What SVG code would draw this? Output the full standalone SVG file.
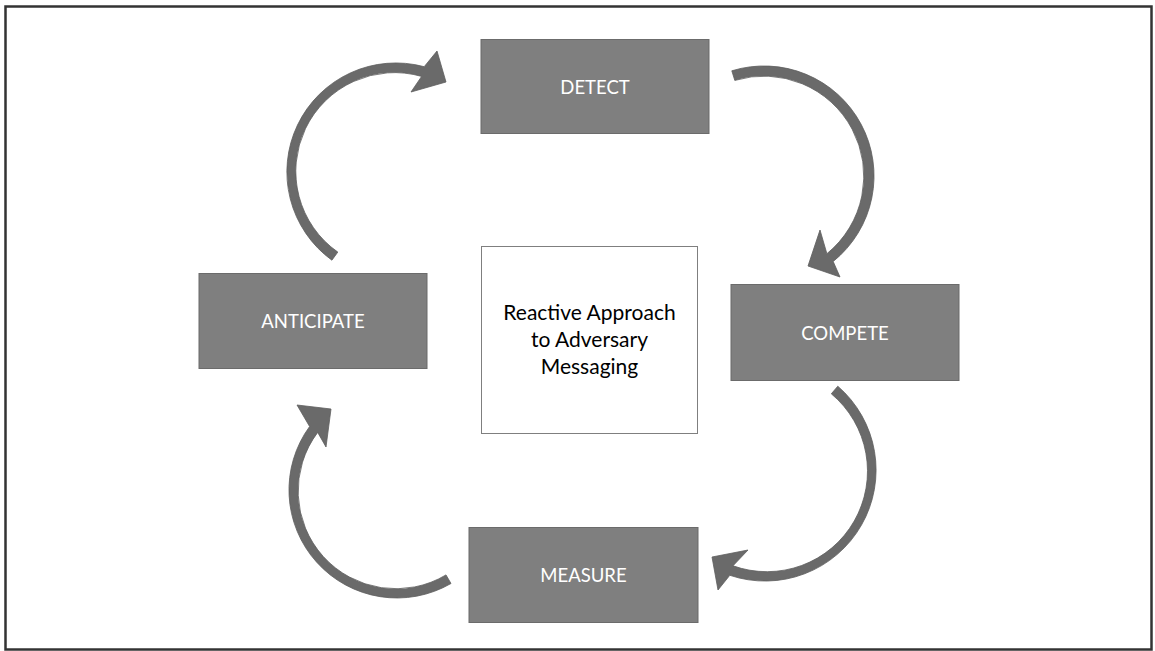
<svg xmlns="http://www.w3.org/2000/svg" width="1155" height="651" viewBox="0 0 1155 651">
  <style>
    .box { fill: #7f7f7f; stroke: #6b6b6b; stroke-width: 1; }
    .lbl { fill: #ffffff; font-family: Lato, "Liberation Sans", sans-serif; font-size: 18.5px; text-anchor: middle; dominant-baseline: central; }
    .ctr { fill: #000000; font-family: Lato, "Liberation Sans", sans-serif; font-size: 21px; text-anchor: middle; }
    .arrow { fill: #6a6a6a; stroke: #5e5e5e; stroke-width: 0.8; stroke-linejoin: miter; }
  </style>
  <rect x="0" y="0" width="1155" height="651" fill="#ffffff"/>
  <rect x="5.5" y="6.5" width="1146" height="643" fill="none" stroke="#333333" stroke-width="2.5"/>

  <g id="connectors">
    <path id="arrow-anticipate-detect" class="arrow" d="M 331.9 260.2 A 109 109 0 0 1 424.2 66.7 L 437 51 L 446 82 L 411 92 L 421.6 76.4 A 98.7 98.7 0 0 0 337.8 252.1 Z"/>
    <path id="arrow-detect-compete" class="arrow" d="M 731.8 70.8 A 110 110 0 0 1 833.2 261.5 L 840 277 L 808 266 L 820 230 L 826.9 253.7 A 100 100 0 0 0 734.8 80.4 Z"/>
    <path id="arrow-compete-measure" class="arrow" d="M 837.8 386.2 A 111 111 0 0 1 729.8 575.3 L 718 590 L 712 557 L 748 550 L 733 565.8 A 100.6 100.6 0 0 0 831.3 393.8 Z"/>
    <path id="arrow-measure-anticipate" class="arrow" d="M 451 583.5 A 108 108 0 0 1 309.6 426.5 L 297 405 L 331 409 L 326 447 L 317.7 432.4 A 97.7 97.7 0 0 0 446 574.9 Z"/>
  </g>

  <g id="node-detect">
    <rect class="box" x="481" y="39.5" width="228" height="94"/>
    <text class="lbl" x="595" y="87">DETECT</text>
  </g>
  <g id="node-anticipate">
    <rect class="box" x="199" y="273.5" width="228" height="95"/>
    <text class="lbl" x="313" y="321">ANTICIPATE</text>
  </g>
  <g id="node-compete">
    <rect class="box" x="731" y="284.5" width="228" height="96"/>
    <text class="lbl" x="845" y="333">COMPETE</text>
  </g>
  <g id="node-measure">
    <rect class="box" x="469" y="527.5" width="229" height="95"/>
    <text class="lbl" x="583.5" y="575">MEASURE</text>
  </g>
  <g id="node-center">
    <rect x="481.5" y="246.5" width="216" height="187" fill="#ffffff" stroke="#7f7f7f" stroke-width="1"/>
    <text class="ctr" x="589.5" y="320">Reactive Approach</text>
    <text class="ctr" x="589.5" y="347">to Adversary</text>
    <text class="ctr" x="589.5" y="374">Messaging</text>
  </g>
</svg>
